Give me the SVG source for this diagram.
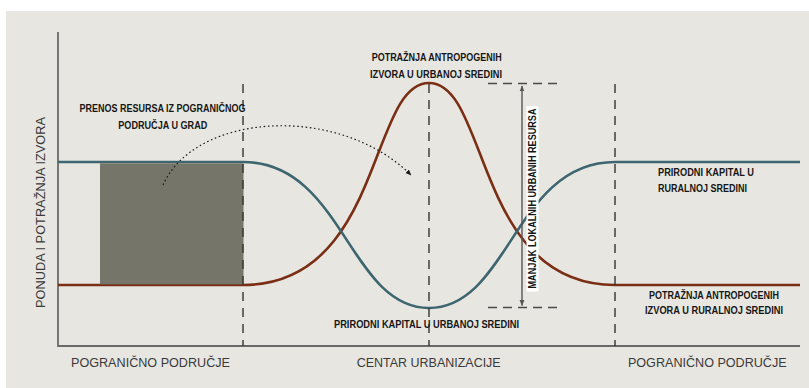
<svg xmlns="http://www.w3.org/2000/svg" width="809" height="388" viewBox="0 0 809 388">
<style>
.lbl{font-family:"Liberation Sans",Arial,sans-serif;font-weight:bold;font-size:11px;fill:#161616;}
.ax{font-family:"Liberation Sans",Arial,sans-serif;font-size:12.5px;fill:#3a3a3a;}
.dash{stroke:#333333;stroke-width:1.4;stroke-dasharray:9 7;fill:none;}
.hdash{stroke:#4a4a4a;stroke-width:1.4;stroke-dasharray:9 6;fill:none;}
.blue{stroke:#3d6670;stroke-width:2.6;fill:none;}
.red{stroke:#7a2e14;stroke-width:2.6;fill:none;}
</style>
<defs>
<marker id="ahDot" viewBox="0 0 10 10" refX="9" refY="5" markerWidth="6" markerHeight="6" markerUnits="userSpaceOnUse" orient="auto"><path d="M0,1 L10,5 L0,9 Z" fill="#1a1a1a"/></marker>
<marker id="ahGray" viewBox="0 0 10 10" refX="9" refY="5" markerWidth="6" markerHeight="6" markerUnits="userSpaceOnUse" orient="auto-start-reverse"><path d="M0,1 L10,5 L0,9 Z" fill="#555"/></marker>
</defs>
<rect x="0" y="0" width="809" height="388" fill="#ffffff"/>
<rect x="6" y="11" width="803" height="377" fill="#e8e6e1"/>

<!-- axes -->
<g id="axes" stroke="#6a6a6a" stroke-width="1.8" fill="none">
<path d="M58,32 V346 H800"/>
</g>

<!-- curves -->
<path class="red" d="M58,285 H243 C383,285 369,83 429,83 C489,83 475,285 615,285 H800"/>
<path class="blue" d="M58,162 H243 C343,162 349,308 429,308 C509,308 515,162 615,162 H800"/>

<!-- transfer block -->
<g id="transfer-block">
<rect x="100" y="163.3" width="143.5" height="121" fill="#75756a"/>
</g>

<!-- dashed guides -->
<g id="guides">
<path class="dash" d="M243,84 V346"/>
<path class="dash" d="M429,84 V346"/>
<path class="dash" d="M615,84 V346"/>
<path class="hdash" d="M488,83.5 H557"/>
<path class="hdash" d="M488,307.5 H557"/>
</g>

<!-- connectors -->
<g id="connectors">
<path d="M163,185 C195,113 338,103 411,175" fill="none" stroke="#1a1a1a" stroke-width="1.2" stroke-dasharray="1.6 2.6" marker-end="url(#ahDot)"/>
<path d="M522,86 V305.5" fill="none" stroke="#555" stroke-width="1.4" marker-start="url(#ahGray)" marker-end="url(#ahGray)"/>
</g>

<!-- labels -->
<g id="label-prenos">
<text class="lbl" x="162.5" y="112" text-anchor="middle" textLength="166" lengthAdjust="spacingAndGlyphs">PRENOS RESURSA IZ POGRANIČNOG</text>
<text class="lbl" x="162.8" y="129" text-anchor="middle" textLength="89" lengthAdjust="spacingAndGlyphs">PODRUČJA U GRAD</text>
</g>
<g id="label-potraznja-urban">
<text class="lbl" x="436.7" y="61" text-anchor="middle" textLength="130" lengthAdjust="spacingAndGlyphs">POTRAŽNJA ANTROPOGENIH</text>
<text class="lbl" x="436" y="77.7" text-anchor="middle" textLength="132" lengthAdjust="spacingAndGlyphs">IZVORA U URBANOJ SREDINI</text>
</g>
<g id="label-prirodni-urban">
<text class="lbl" x="426.5" y="327.7" text-anchor="middle" textLength="185" lengthAdjust="spacingAndGlyphs">PRIRODNI KAPITAL U URBANOJ SREDINI</text>
</g>
<g id="label-prirodni-rural">
<text class="lbl" x="658" y="175.7" textLength="96" lengthAdjust="spacingAndGlyphs">PRIRODNI KAPITAL U</text>
<text class="lbl" x="658" y="192" textLength="89" lengthAdjust="spacingAndGlyphs">RURALNOJ SREDINI</text>
</g>
<g id="label-potraznja-rural">
<text class="lbl" x="714" y="299" text-anchor="middle" textLength="130" lengthAdjust="spacingAndGlyphs">POTRAŽNJA ANTROPOGENIH</text>
<text class="lbl" x="714" y="314" text-anchor="middle" textLength="138" lengthAdjust="spacingAndGlyphs">IZVORA U RURALNOJ SREDINI</text>
</g>
<g id="label-manjak">
<rect x="526.5" y="106" width="12" height="185.5" fill="#ffffff"/>
<text class="lbl" transform="translate(536.3,198.5) rotate(-90)" text-anchor="middle" textLength="180" lengthAdjust="spacingAndGlyphs">MANJAK LOKALNIH URBANIH RESURSA</text>
</g>
<g id="label-y-axis">
<text class="ax" transform="translate(45,212.5) rotate(-90)" text-anchor="middle" textLength="191" lengthAdjust="spacingAndGlyphs">PONUDA I POTRAŽNJA IZVORA</text>
</g>
<g id="label-x-left">
<text class="ax" x="150.5" y="366.7" text-anchor="middle" textLength="159" lengthAdjust="spacingAndGlyphs">POGRANIČNO PODRUČJE</text>
</g>
<g id="label-x-center">
<text class="ax" x="428.7" y="366.7" text-anchor="middle" textLength="144" lengthAdjust="spacingAndGlyphs">CENTAR URBANIZACIJE</text>
</g>
<g id="label-x-right">
<text class="ax" x="707.3" y="366.7" text-anchor="middle" textLength="158.7" lengthAdjust="spacingAndGlyphs">POGRANIČNO PODRUČJE</text>
</g>
</svg>
